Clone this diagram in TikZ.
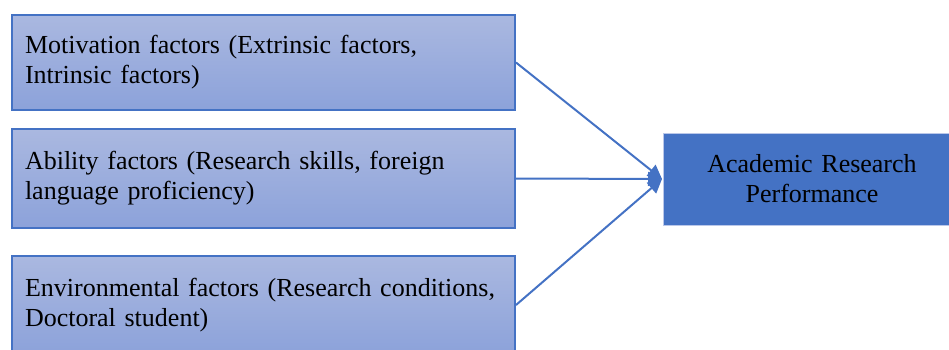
\documentclass[tikz,border=0pt]{standalone}
\usepackage{fontspec}
\setmainfont{Liberation Serif}
\usetikzlibrary{arrows.meta}

\definecolor{boxblue}{HTML}{4472C4}
\definecolor{lighttop}{HTML}{AAB8E0}
\definecolor{lightbot}{HTML}{8CA2DA}

\tikzset{
  factor/.style={draw=boxblue, line width=2pt, top color=lighttop, bottom color=lightbot,
    minimum width=503pt, minimum height=95pt, text width=477pt, inner sep=0pt,
    align=left, font=\fontsize{26}{30}\selectfont},
  outcome/.style={draw=lightbot!60, line width=0.8pt, fill=boxblue,
    minimum width=298pt, minimum height=92pt, text width=280pt, inner sep=0pt,
    align=center, font=\fontsize{26}{30}\selectfont},
  link/.style={draw=boxblue, line width=2pt, -{Triangle[length=14pt,width=14pt]}}
}

\begin{document}
\begin{tikzpicture}[x=1pt,y=-1pt]

\useasboundingbox (0,0) rectangle (949,350);

\node[factor] (motiv) at (263.5,62.5) {Motivation factors (Extrinsic factors,\\Intrinsic factors)};
\node[factor, minimum height=99pt] (abil) at (263.5,178.5) {Ability factors (Research skills, foreign\\language proficiency)};
\node[factor, minimum height=98pt] (envir) at (263.5,305) {Environmental factors (Research conditions,\\Doctoral student)};

\node[outcome] (perf) at (812,179) {Academic Research\\Performance};

\coordinate (tip) at (662,179);

\foreach \i in {motiv,abil,envir}
    \draw[link] (\i.east) -- (tip);

\end{tikzpicture}
\end{document}
